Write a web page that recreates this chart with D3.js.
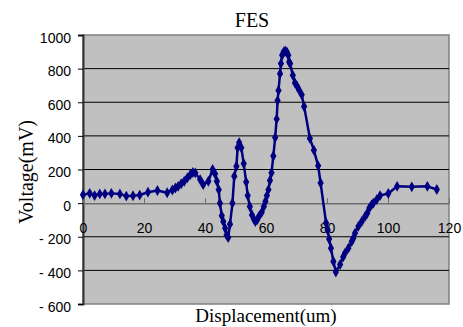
<!DOCTYPE html>
<html>
<head>
<meta charset="utf-8">
<script src="https://cdn.jsdelivr.net/npm/d3@7"></script>
<style>
    body { margin: 0; background: #fff; }
    .axis text { font-family: "Liberation Sans", Arial, sans-serif; font-size: 14px; fill: #000; }
    .serif { font-family: "Liberation Serif", "Times New Roman", serif; fill: #000; }
</style>
</head>
<body>
<div id="FesPlot"></div>
<script>
'use strict';

// displacement (um) and voltage (mV)
let displacement = [0, 2.2, 3.8, 5.5, 7.2, 9.3, 12.1, 14.2, 16.4, 18.6, 21.3, 24.4, 27.6, 29.3, 30.3, 31.2, 32.2, 33.2, 34.2, 35.2, 36.0, 36.8, 38.4, 39.4, 41.1, 42.5, 43.3, 43.9, 44.5, 44.9, 45.5, 46.0, 46.6, 47.1, 47.6, 48.2, 49.0, 49.6, 50.3, 50.7, 51.2, 51.9, 52.7, 53.5, 54.0, 54.7, 55.4, 56.0, 56.5, 57.1, 57.8, 58.6, 59.3, 59.8, 60.3, 60.8, 61.3, 61.8, 62.4, 63.0, 63.5, 63.8, 64.1, 64.6, 64.9, 65.3, 65.8, 66.3, 66.8, 67.3, 67.6, 67.9, 68.8, 69.5, 70.2, 70.8, 71.7, 72.5, 74.4, 75.7, 77.1, 77.9, 79.7, 80.2, 80.7, 81.3, 82.1, 82.9, 84.3, 85.3, 85.9, 87.0, 88.1, 88.6, 89.2, 90.3, 91.4, 92.5, 93.2, 93.9, 94.6, 95.2, 96.3, 97.4, 100.1, 103.0, 107.8, 112.9, 116.0];
let voltage = [50, 58, 45, 55, 55, 58, 55, 42, 44, 48, 65, 75, 62, 78, 90, 100, 115, 130, 150, 170, 182, 180, 140, 110, 130, 200, 175, 130, 80, 0, -75, -110, -150, -190, -205, -125, 0, 160, 220, 330, 360, 330, 235, 125, 45, -20, -70, -95, -110, -100, -75, -55, -20, 10, 45, 80, 135, 180, 280, 390, 500, 610, 670, 770, 830, 880, 900, 905, 900, 880, 840, 830, 760, 715, 695, 675, 645, 575, 385, 315, 222, 120, -118, -160, -214, -268, -347, -410, -365, -320, -297, -268, -228, -210, -178, -138, -109, -79, -60, -29, -10, 0, 21, 45, 57, 100, 97, 100, 81];

let xTicks = [0, 20, 40, 60, 80, 100, 120];
let yTicks = [-600, -400, -200, 0, 200, 400, 600, 800, 1000];
let gridValues = [-400, -200, 200, 400, 600, 800];

let chartTitle = "FES";
let xTitle = "Displacement(um)";
let yTitle = "Voltage(mV)";

var margin = { top: 35, right: 14, bottom: 23, left: 83 };
var totalWidth = 463, totalHeight = 327;
let width = totalWidth - margin.left - margin.right;
let height = totalHeight - margin.top - margin.bottom;

let data = displacement.map((d, i) => ({ x: d, v: voltage[i] }));

var svg = d3.select("#FesPlot")
    .append("svg")
    .attr("width", totalWidth)
    .attr("height", totalHeight)
    .append("g")
    .attr("transform", "translate(" + margin.left + "," + margin.top + ")");

var x = d3.scaleLinear().domain([0, 120]).range([0, width]);
var y = d3.scaleLinear().domain([-600, 1000]).range([height, 0]);

// plot area
svg.append("rect")
    .attr("width", width)
    .attr("height", height)
    .attr("fill", "#c0c0c0")
    .attr("stroke", "#808080")
    .attr("stroke-width", 1.5);

svg.selectAll(".grid")
    .data(gridValues)
    .enter().append("line")
    .attr("class", "grid")
    .attr("x1", 0)
    .attr("x2", width)
    .attr("y1", d => y(d))
    .attr("y2", d => y(d))
    .attr("stroke", "#000")
    .attr("stroke-width", 1);

// y axis
let yAxis = svg.append("g")
    .attr("class", "y axis")
    .call(d3.axisLeft(y).tickValues(yTicks).tickSize(5).tickPadding(7)
        .tickFormat(d => d < 0 ? "- " + Math.abs(d) : d));
yAxis.select(".domain").attr("stroke", "#333").attr("stroke-width", 2);
yAxis.selectAll(".tick text").attr("dy", "0.5em");

// x axis sits on the zero line, labels hang below it
let xAxis = svg.append("g")
    .attr("class", "x axis")
    .attr("transform", "translate(0," + y(0) + ")")
    .call(d3.axisBottom(x).tickValues(xTicks).tickSize(-5).tickPadding(20).tickSizeOuter(0));
xAxis.select(".domain").attr("stroke", "#6e6e6e").attr("stroke-width", 1.5);
xAxis.selectAll(".tick line").attr("stroke", "#6e6e6e");

// series
svg.append("path")
    .datum(data)
    .attr("fill", "none")
    .attr("stroke", "#000080")
    .attr("stroke-width", 2.5)
    .attr("stroke-linejoin", "round")
    .attr("d", d3.line().x(d => x(d.x)).y(d => y(d.v)));

svg.selectAll(".marker")
    .data(data)
    .enter().append("path")
    .attr("class", "marker")
    .attr("transform", d => "translate(" + x(d.x) + "," + y(d.v) + ")")
    .attr("d", d3.symbol().type(d3.symbolDiamond).size(34))
    .attr("fill", "#000080");

// titles
svg.append("text")
    .attr("class", "serif")
    .attr("x", 252 - margin.left)
    .attr("y", 27 - margin.top)
    .attr("font-size", "20px")
    .style("text-anchor", "middle")
    .text(chartTitle);

svg.append("text")
    .attr("class", "serif")
    .attr("x", 266 - margin.left)
    .attr("y", 322 - margin.top)
    .attr("font-size", "19px")
    .style("text-anchor", "middle")
    .text(xTitle);

svg.append("text")
    .attr("class", "serif")
    .attr("transform", "rotate(-90)")
    .attr("x", -(172 - margin.top))
    .attr("y", 33 - margin.left)
    .attr("font-size", "20px")
    .style("text-anchor", "middle")
    .text(yTitle);
</script>
</body>
</html>
